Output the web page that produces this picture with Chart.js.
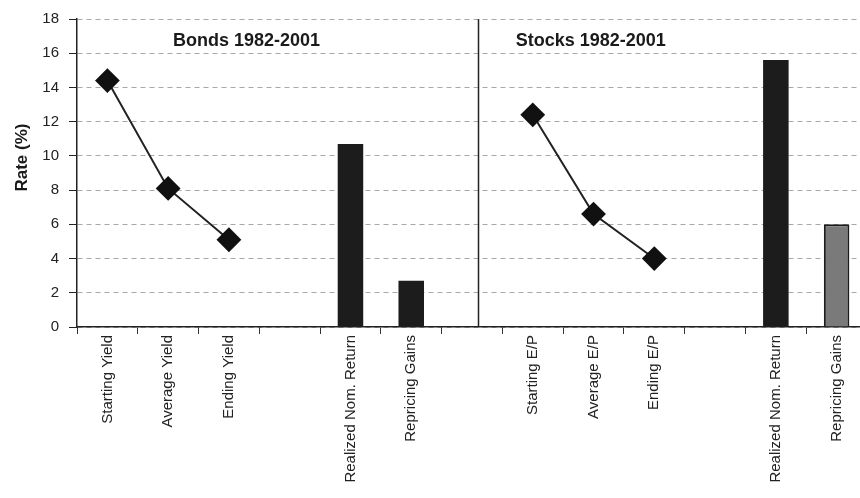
<!DOCTYPE html>
<html lang="en">
  <head>
    <meta charset="utf-8">
    <title>Bonds and Stocks 1982-2001</title>
    <style>
      body {padding: 0; margin: 0; overflow: hidden; background: #fff;}
      #wrap {position: relative; width: 880px; height: 498px;}
    </style>
    <script src="https://cdn.jsdelivr.net/npm/chart.js@4.4.0/dist/chart.umd.min.js"></script>
  </head>
  <body>
    <div id="wrap"><canvas id="rateChart"></canvas></div>
    <script>
      // blank labels are the spacer slots (index 6 holds the divider)
      var xlabels = ['Starting Yield', 'Average Yield', 'Ending Yield', '', 'Realized Nom. Return', 'Repricing Gains', '',
                     'Starting E/P', 'Average E/P', 'Ending E/P', '', 'Realized Nom. Return', 'Repricing Gains'];
      // diamonds: yields and earnings yields
      var yieldPoints = [14.4, 8.1, 5.1, null, null, null, null, 12.4, 6.6, 4.0, null, null, null];
      // bars: realized returns and repricing gains
      var returnBars = [null, null, null, null, 10.7, 2.7, null, null, null, null, null, 15.6, 6.0];
      var yMin = 0, yMax = 18, yStep = 2;
      var yTitle = 'Rate (%)';
      var panelTitles = ['Bonds 1982-2001', 'Stocks 1982-2001'];
      var dividerIndex = 6;

      var baseFont = '"Liberation Sans", Arial, Helvetica, sans-serif';

      var panelPlugin = {
        id: 'panels',
        afterDatasetsDraw: function(chart) {
          var x = chart.scales.x, y = chart.scales.y, ctx = chart.ctx;
          ctx.save();
          // vertical divider between bonds and stocks
          var dx = Math.round(x.getPixelForValue(dividerIndex + 0.1)) + 0.5;
          ctx.strokeStyle = '#222';
          ctx.lineWidth = 1.5;
          ctx.beginPath();
          ctx.moveTo(dx, y.top);
          ctx.lineTo(dx, y.bottom);
          ctx.stroke();
          // panel titles
          ctx.font = 'bold 18px ' + baseFont;
          ctx.fillStyle = '#1a1a1a';
          ctx.textBaseline = 'middle';
          ctx.textAlign = 'left';
          var ty = y.getPixelForValue(16.7);
          ctx.fillText(panelTitles[0], x.getPixelForValue(1.08), ty);
          ctx.fillText(panelTitles[1], x.getPixelForValue(6.72), ty);
          // y axis title, sits a little above the middle of the axis
          ctx.translate(22, y.getPixelForValue(9.9));
          ctx.rotate(-Math.PI / 2);
          ctx.textAlign = 'center';
          ctx.font = 'bold 17px ' + baseFont;
          ctx.fillText(yTitle, 0, 0);
          ctx.restore();
        }
      };

      var ctx = document.getElementById('rateChart').getContext('2d');
      var rateChart = new Chart(ctx, {
        type: 'bar',
        data: {
          labels: xlabels,
          datasets: [
            {
              type: 'line',
              label: 'Yield',
              data: yieldPoints,
              borderColor: '#222',
              borderWidth: 2,
              pointStyle: 'rectRot',
              pointRadius: 11,
              pointBackgroundColor: '#111',
              pointBorderColor: '#111',
              spanGaps: false,
              order: 0
            },
            {
              type: 'bar',
              label: 'Return',
              data: returnBars,
              backgroundColor: function(c) {
                return (c.dataIndex > dividerIndex && xlabels[c.dataIndex] === 'Repricing Gains') ? '#7a7a7a' : '#1c1c1c';
              },
              borderColor: '#1c1c1c',
              borderWidth: function(c) {
                return (c.dataIndex > dividerIndex && xlabels[c.dataIndex] === 'Repricing Gains') ? 2 : 0;
              },
              barPercentage: 0.42,
              categoryPercentage: 1,
              order: 1
            }
          ]
        },
        options: {
          responsive: true,
          maintainAspectRatio: false,
          animation: false,
          layout: {padding: {top: 15, right: 0, left: 0, bottom: 0}},
          plugins: {
            legend: {display: false},
            tooltip: {enabled: false}
          },
          scales: {
            x: {
              afterFit: function(s) { s.height = 171; },
              grid: {drawOnChartArea: false, drawTicks: true, tickLength: 7, tickColor: '#333', lineWidth: 1},
              border: {color: '#222', width: 1.5},
              ticks: {
                autoSkip: false,
                minRotation: 90,
                maxRotation: 90,
                padding: 1,
                color: '#222',
                font: {family: baseFont, size: 15}
              }
            },
            y: {
              min: yMin,
              max: yMax,
              afterFit: function(s) { s.width = 77; },
              grid: {color: 'rgba(0,0,0,0.34)', lineWidth: 1, tickLength: 8, tickColor: '#222'},
              border: {color: '#222', width: 1.5, dash: [5, 4]},
              ticks: {
                stepSize: yStep,
                padding: 10,
                color: '#222',
                font: {family: baseFont, size: 15}
              }
            }
          }
        },
        plugins: [panelPlugin]
      });
    </script>
  </body>
</html>
